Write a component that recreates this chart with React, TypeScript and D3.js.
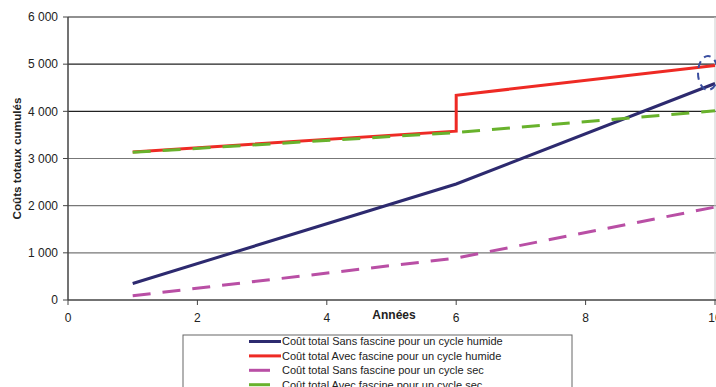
import React from "react";
import * as d3 from "d3";

const yTicks = [0, 1000, 2000, 3000, 4000, 5000, 6000];
const xTicks = [0, 2, 4, 6, 8, 10];
const seriesNames = [
  "Coût total Sans fascine pour un cycle humide",
  "Coût total Avec fascine pour un cycle humide",
  "Coût total Sans fascine pour un cycle sec",
  "Coût total Avec fascine pour un cycle sec",
];
const sansHumide: [number, number][] = [[1, 350], [6, 2460], [10, 4590]];
const avecHumide: [number, number][] = [[1, 3140], [6, 3580], [6, 4340], [10, 4970]];
const sansSec: [number, number][] = [[1, 90], [6, 890], [10, 1970]];
const avecSec: [number, number][] = [[1, 3130], [6, 3550], [10, 4010]];

const colors = ["#2d2a6f", "#ee2a24", "#b94fa5", "#68b22c"];
const dashed = [false, false, true, true];

export default function App() {
  const W = 716, H = 387;
  const x = d3.scaleLinear().domain([0, 10]).range([68, 715]);
  const y = d3.scaleLinear().domain([0, 6000]).range([300, 17]);
  const line = d3.line<[number, number]>().x(d => x(d[0])).y(d => y(d[1]));
  const data = [sansHumide, avecHumide, sansSec, avecSec];
  const font = "'Liberation Sans', Arial, sans-serif";
  return (
    <svg width={W} height={H} style={{ position: "absolute", left: 0, top: 0, background: "#fff" }} fontFamily={font}>
      {yTicks.map(t => (
        <g key={t}>
          {t > 0 && (
            <line x1={x(0)} x2={716} y1={y(t)} y2={y(t)} stroke={t >= 4000 ? "#222" : "#777"} strokeWidth={1.2} />
          )}
          <line x1={x(0) - 5} x2={x(0)} y1={y(t)} y2={y(t)} stroke="#444" strokeWidth={1} />
          <text x={x(0) - 10} y={y(t)} dy="0.35em" textAnchor="end" fontSize={12} fill="#222">
            {d3.format(",")(t).replace(",", " ")}
          </text>
        </g>
      ))}
      <line x1={715} x2={715} y1={y(6000)} y2={y(0)} stroke="#ccc" strokeWidth={1} />
      <line x1={x(0)} x2={x(0)} y1={y(6000)} y2={y(0)} stroke="#444" strokeWidth={1.5} />
      <line x1={x(0)} x2={716} y1={y(0)} y2={y(0)} stroke="#444" strokeWidth={1.5} />
      {xTicks.map(t => (
        <g key={t}>
          <line x1={x(t)} x2={x(t)} y1={y(0)} y2={y(0) + 5} stroke="#444" strokeWidth={1} />
          <text x={x(t)} y={y(0) + 22} textAnchor="middle" fontSize={12} fill="#222">{t}</text>
        </g>
      ))}
      <text x={394} y={319} textAnchor="middle" fontSize={12} fontWeight="bold" fill="#222">Années</text>
      <text transform={`translate(21,${y(3000)}) rotate(-90)`} textAnchor="middle" fontSize={11.7} fontWeight="bold" fill="#222">
        Coûts totaux cumulés
      </text>
      {data.map((d, i) => (
        <path key={i} d={line(d) || ""} fill="none" stroke={colors[i]} strokeWidth={3}
          strokeDasharray={dashed[i] ? "18 12" : undefined} />
      ))}
      <ellipse cx={708} cy={73} rx={10} ry={17} fill="none" stroke="#3a4ea0" strokeWidth={2} strokeDasharray="7 5" />
      <rect x={183} y={335} width={389} height={60} fill="#fff" stroke="#666" strokeWidth={1} />
      {seriesNames.map((n, i) => (
        <g key={n} transform={`translate(0,${341.5 + i * 14.4})`}>
          <line x1={249} x2={dashed[i] ? 270 : 281} y1={0} y2={0} stroke={colors[i]} strokeWidth={3} />
          <text x={282} y={0} dy="0.35em" fontSize={11} fill="#222">{n}</text>
        </g>
      ))}
    </svg>
  );
}
